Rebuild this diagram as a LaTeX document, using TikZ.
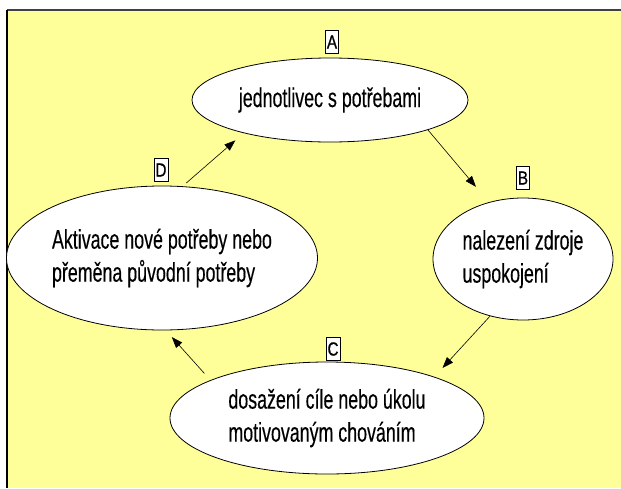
\documentclass[tikz,border=0pt]{standalone}
\usepackage{fontspec}
\setmainfont{Liberation Sans}[FakeStretch=0.66, FakeBold=0.3]
\newfontfamily\tagfont{Liberation Sans}[FakeStretch=0.8, FakeBold=0.8]
\usepackage{tikz}
\usetikzlibrary{shapes.geometric, arrows.meta}

\definecolor{paleyellow}{RGB}{255,255,153}

\tikzset{
    stage/.style={ellipse, draw=black, line width=0.8pt, fill=white, inner sep=0pt, align=left,
        font=\fontsize{27}{33}\selectfont},
    tag/.style={rectangle, draw=black, line width=0.8pt, fill=white, inner xsep=1.5pt, inner ysep=0pt,
        minimum height=23pt, font=\tagfont\fontsize{19}{19}\selectfont},
    flow/.style={draw=black, line width=0.6pt, -{Triangle[length=11pt,width=8pt]}}
}

\begin{document}
\begin{tikzpicture}[x=1pt,y=-1pt]
    \useasboundingbox (0,0) rectangle (621,488);

    % Draw the background sheet
    \fill[paleyellow] (7,10) rectangle (621,488);
    \draw[line width=1.5pt, black!75] (7,10) -- (621,10);
    \draw[line width=1.5pt] (7,10) -- (7,488);

    % Draw the stages
    \node[stage, minimum width=276pt, minimum height=84pt] (needs) at (330,100) {jednotlivec s potřebami};
    \node[stage, minimum width=180pt, minimum height=122pt] (source) at (523,259) {nalezení zdroje\\uspokojení};
    \node[stage, minimum width=314pt, minimum height=112pt] (goal) at (327,418) {dosažení cíle nebo úkolu\\motivovaným chováním};
    \node[stage, minimum width=300pt, minimum height=144pt] (renewal) at (162,258) {Aktivace nové potřeby nebo\\přeměna původní potřeby};

    % Draw the letters
    \node[tag] (tagA) at (332,42) {A};
    \node[tag] (tagB) at (523,178) {B};
    \node[tag] (tagC) at (333,349) {C};
    \node[tag] (tagD) at (161,170) {D};

    % Draw the cycle
    \draw[flow, shorten >=20pt] (needs.-17) -- (source.121);
    \draw[flow, shorten >=12pt] (source.240) -- (goal.21);
    \draw[flow, shorten <=9pt, shorten >=9pt] (goal.162) -- (renewal.-87);
    \draw[flow, shorten <=5pt, shorten >=11pt] (renewal.74) -- (needs.201);
\end{tikzpicture}
\end{document}
